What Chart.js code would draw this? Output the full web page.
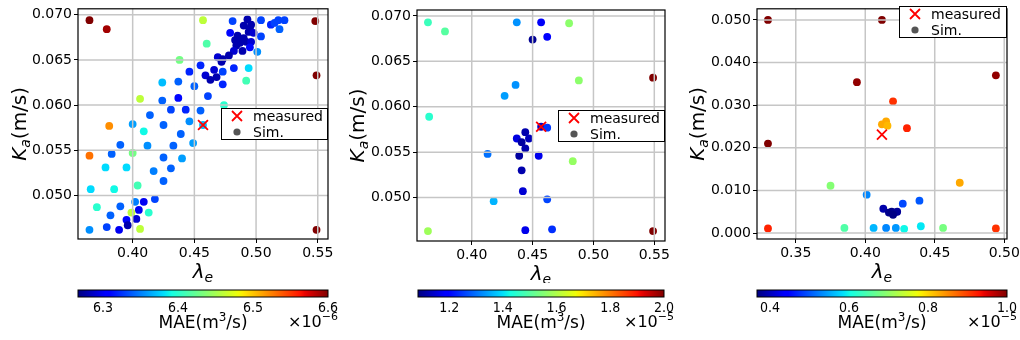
<!DOCTYPE html>
<html>
<head>
<meta charset="utf-8">
<script src="https://cdn.jsdelivr.net/npm/chart.js@4.4.1/dist/chart.umd.min.js"></script>
<style>
  body { margin: 0; background: #fff; width: 1020px; height: 340px; position: relative; overflow: hidden; }
  .box { position: absolute; }
</style>
</head>
<body>
<div class="box" style="left:0;top:0;width:340px;height:283px"><canvas id="p1"></canvas></div>
<div class="box" style="left:340px;top:0;width:340px;height:283px"><canvas id="p2"></canvas></div>
<div class="box" style="left:680px;top:0;width:340px;height:283px"><canvas id="p3"></canvas></div>
<div class="box" style="left:0;top:283px;width:340px;height:57px"><canvas id="cb1"></canvas></div>
<div class="box" style="left:340px;top:283px;width:340px;height:57px"><canvas id="cb2"></canvas></div>
<div class="box" style="left:680px;top:283px;width:340px;height:57px"><canvas id="cb3"></canvas></div>
<script>
// ---- data ----
// panel 1
const p1Lambda = [0.365,0.379,0.457,0.481,0.493,0.504,0.512,0.515,0.518,0.523,0.548,0.490,0.496,0.495,0.519,0.494,0.498,0.479,0.504,0.485,
  0.483,0.490,0.492,0.496,0.487,0.484,0.495,0.489,0.482,0.501,0.460,0.478,0.469,0.473,0.472,0.482,0.494,0.473,0.466,0.459,
  0.468,0.463,0.492,0.473,0.549,0.461,0.474,0.455,0.438,0.455,0.446,0.424,0.437,0.450,0.406,0.424,0.437,0.431,0.443,0.414,
  0.446,0.457,0.381,0.400,0.425,0.409,0.439,0.449,0.390,0.412,0.433,0.365,0.383,0.400,0.425,0.440,0.378,0.395,0.417,0.431,
  0.425,0.366,0.385,0.404,0.371,0.390,0.402,0.409,0.418,0.413,0.405,0.399,0.382,0.395,0.403,0.396,0.379,0.389,0.365,0.406,0.549];
const p1Ka = [0.0694,0.0684,0.0694,0.0693,0.0695,0.0694,0.0689,0.0691,0.0694,0.0694,0.0693,0.0688,0.0689,0.0685,0.0684,0.0681,0.0680,0.0680,0.0676,0.0677,
  0.0672,0.0674,0.0670,0.0670,0.0669,0.0666,0.0664,0.0660,0.0660,0.0659,0.0668,0.0655,0.0653,0.0651,0.0648,0.0641,0.0641,0.0637,0.0639,0.0633,
  0.0631,0.0628,0.0627,0.0623,0.0633,0.0610,0.0600,0.0594,0.0650,0.0644,0.0637,0.0625,0.0626,0.0621,0.0607,0.0605,0.0608,0.0595,0.0595,0.0589,
  0.0582,0.0578,0.0577,0.0579,0.0578,0.0571,0.0568,0.0558,0.0556,0.0555,0.0555,0.0544,0.0546,0.0547,0.0542,0.0541,0.0531,0.0531,0.0527,0.0530,
  0.0516,0.0507,0.0507,0.0511,0.0487,0.0488,0.0493,0.0493,0.0496,0.0481,0.0484,0.0481,0.0478,0.0473,0.0474,0.0467,0.0465,0.0462,0.0462,0.0463,0.0462];
const p1Mae = [6.60,6.59,6.46,6.33,6.28,6.33,6.32,6.33,6.33,6.33,6.60,6.28,6.28,6.28,6.34,6.28,6.29,6.31,6.33,6.28,
  6.28,6.28,6.28,6.29,6.28,6.28,6.31,6.28,6.29,6.355,6.415,6.28,6.29,6.28,6.28,6.32,6.38,6.33,6.29,6.29,
  6.28,6.28,6.41,6.32,6.60,6.33,6.40,6.34,6.43,6.32,6.32,6.37,6.34,6.34,6.46,6.34,6.31,6.33,6.32,6.34,
  6.355,6.37,6.52,6.36,6.34,6.39,6.34,6.36,6.34,6.355,6.34,6.53,6.34,6.43,6.34,6.36,6.38,6.38,6.35,6.34,
  6.34,6.38,6.39,6.41,6.40,6.34,6.35,6.30,6.33,6.40,6.30,6.46,6.34,6.31,6.29,6.28,6.33,6.30,6.355,6.46,6.60];
const p1Measured = [0.457, 0.0578];
const p1XRange = [0.3557, 0.5583];
const p1YRange = [0.04518, 0.07066];
const p1XTicks = [0.40, 0.45, 0.50, 0.55];
const p1YTicks = [0.050, 0.055, 0.060, 0.065, 0.070];
const cb1Range = [6.2667, 6.60];
const cb1Ticks = [6.3, 6.4, 6.5, 6.6];

// panel 2
const p2Lambda = [0.364,0.378,0.437,0.457,0.480,0.450,0.462,0.488,0.549,0.436,0.427,0.365,0.457,0.462,0.444,0.437,0.447,0.441,0.444,0.413,
  0.439,0.455,0.483,0.441,0.442,0.462,0.418,0.364,0.444,0.466,0.549];
const p2Ka = [0.0693,0.0683,0.0693,0.0693,0.0692,0.0674,0.0677,0.0629,0.0632,0.0624,0.0612,0.0589,0.0578,0.0577,0.0572,0.0565,0.0565,0.0561,0.0554,0.0548,
  0.0546,0.0546,0.0540,0.0530,0.0507,0.0498,0.0496,0.0463,0.0464,0.0465,0.0463];
const p2Mae = [1.47,1.50,1.33,1.18,1.56,1.10,1.19,1.56,2.00,1.33,1.34,1.45,1.14,1.25,1.12,1.16,1.13,1.11,1.12,1.30,
  1.11,1.17,1.57,1.12,1.15,1.26,1.36,1.58,1.17,1.24,2.00];
const p2Measured = [0.457, 0.0578];
const p2XRange = [0.3550, 0.5588];
const p2YRange = [0.04521, 0.07066];
const p2XTicks = [0.40, 0.45, 0.50, 0.55];
const p2YTicks = [0.050, 0.055, 0.060, 0.065, 0.070];
const cb2Range = [1.084, 2.0];
const cb2Ticks = [1.2, 1.4, 1.6, 1.8, 2.0];

// panel 3
const p3Lambda = [0.330,0.412,0.394,0.494,0.420,0.412,0.415,0.416,0.430,0.330,0.375,0.468,0.401,0.413,0.417,0.419,0.421,0.423,0.420,0.427,
  0.439,0.330,0.385,0.406,0.415,0.422,0.428,0.440,0.456,0.494];
const p3Ka = [0.0500,0.0500,0.0354,0.0370,0.0309,0.0255,0.0262,0.0252,0.0246,0.0210,0.0111,0.0118,0.0090,0.0057,0.0048,0.0050,0.0048,0.0050,0.0043,0.0069,
  0.0076,0.0011,0.0012,0.0012,0.0012,0.0012,0.0010,0.0016,0.0012,0.0011];
const p3Mae = [1.00,1.00,0.99,0.99,0.91,0.83,0.83,0.82,0.92,1.00,0.69,0.83,0.53,0.39,0.375,0.37,0.375,0.38,0.37,0.49,
  0.50,0.92,0.65,0.56,0.53,0.54,0.60,0.59,0.68,0.91];
const p3Measured = [0.412, 0.0231];
const p3XRange = [0.3221, 0.5020];
const p3YRange = [-0.00139, 0.0526];
const p3XTicks = [0.35, 0.40, 0.45, 0.50];
const p3YTicks = [0.000, 0.010, 0.020, 0.030, 0.040, 0.050];
const cb3Range = [0.367, 1.0];
const cb3Ticks = [0.4, 0.6, 0.8, 1.0];

// ---- helpers ----
const FONT = "'DejaVu Sans', sans-serif";
const NARROW = "'Liberation Sans Narrow', 'DejaVu Sans Condensed', sans-serif";
Chart.defaults.font.family = FONT;
Chart.defaults.font.size = 14;
Chart.defaults.color = '#000';

// matplotlib jet segment data
const JET = {
  r: [[0, 0], [0.35, 0], [0.66, 1], [0.89, 1], [1, 0.5]],
  g: [[0, 0], [0.125, 0], [0.375, 1], [0.64, 1], [0.91, 0], [1, 0]],
  b: [[0, 0.5], [0.11, 1], [0.34, 1], [0.65, 0], [1, 0]],
};
function seg(p, t) {
  for (let i = 1; i < p.length; i++) {
    if (t <= p[i][0]) {
      const f = (t - p[i - 1][0]) / (p[i][0] - p[i - 1][0]);
      return p[i - 1][1] + f * (p[i][1] - p[i - 1][1]);
    }
  }
  return p[p.length - 1][1];
}
function jet(t) {
  t = Math.min(1, Math.max(0, t));
  const c = k => Math.round(255 * seg(JET[k], t));
  return `rgb(${c('r')},${c('g')},${c('b')})`;
}

// draw a run of text pieces (for sub/superscripts), centred or right-aligned
function drawRun(ctx, parts, x, y, align) {
  let w = 0;
  parts.forEach(p => { ctx.font = p.font; p.w = ctx.measureText(p.t).width; w += p.w; });
  let cx = align === 'right' ? x - w : x - w / 2;
  ctx.textAlign = 'left';
  ctx.textBaseline = 'alphabetic';
  parts.forEach(p => { ctx.font = p.font; ctx.fillText(p.t, cx, y + (p.dy || 0)); cx += p.w; });
}

function drawX(ctx, x, y, r) {
  ctx.beginPath();
  ctx.moveTo(x - r, y - r); ctx.lineTo(x + r, y + r);
  ctx.moveTo(x - r, y + r); ctx.lineTo(x + r, y - r);
  ctx.stroke();
}

const deco = {
  id: 'deco',
  afterDatasetsDraw(chart, args, o) {
    const { ctx, chartArea: a, scales: { x, y } } = chart;
    ctx.save();
    // grid on top of the markers, as in the reference
    ctx.strokeStyle = '#c6c6c6';
    ctx.lineWidth = 1.5;
    ctx.beginPath();
    x.ticks.forEach(t => { const px = x.getPixelForValue(t.value); ctx.moveTo(px, a.top); ctx.lineTo(px, a.bottom); });
    y.ticks.forEach(t => { const py = y.getPixelForValue(t.value); ctx.moveTo(a.left, py); ctx.lineTo(a.right, py); });
    ctx.stroke();
    // frame
    ctx.strokeStyle = '#000';
    ctx.lineWidth = 1.2;
    ctx.strokeRect(a.left, a.top, a.right - a.left, a.bottom - a.top);

    // axis titles
    ctx.fillStyle = '#000';
    drawRun(ctx, [
      { t: 'λ', font: `italic 20px ${FONT}` },
      { t: 'e', font: `italic 14px ${FONT}`, dy: 4 },
    ], (a.left + a.right) / 2, a.bottom + 38.5, 'center');
    ctx.save();
    ctx.translate(o.yTitleX, (a.top + a.bottom) / 2);
    ctx.rotate(-Math.PI / 2);
    drawRun(ctx, [
      { t: 'K', font: `italic 20px ${FONT}` },
      { t: 'a', font: `italic 14px ${FONT}`, dy: 4 },
      { t: '(m/s)', font: `20px ${FONT}` },
    ], 0, 0, 'center');
    ctx.restore();

    // legend
    const L = o.legend;
    ctx.fillStyle = '#fff';
    ctx.fillRect(L.x, L.y, L.w, L.h);
    ctx.strokeStyle = '#000';
    ctx.lineWidth = 1;
    ctx.strokeRect(L.x + 0.5, L.y + 0.5, L.w - 1, L.h - 1);
    ctx.strokeStyle = '#ff0000';
    ctx.lineWidth = 1.8;
    drawX(ctx, L.x + 16, L.y + 8, 5);
    ctx.fillStyle = '#555';
    ctx.beginPath();
    ctx.arc(L.x + 16, L.y + 24, 3.6, 0, Math.PI * 2);
    ctx.fill();
    ctx.fillStyle = '#000';
    ctx.font = `14px ${FONT}`;
    ctx.textAlign = 'left';
    ctx.textBaseline = 'alphabetic';
    ctx.fillText('measured', L.x + 32, L.y + 13);
    ctx.fillText('Sim.', L.x + 32, L.y + 29);
    ctx.restore();
  }
};

function panel(id, d) {
  const pts = d.lam.map((v, i) => ({ x: v, y: d.ka[i] }));
  const cols = d.mae.map(m => jet((m - d.cb[0]) / (d.cb[1] - d.cb[0])));
  const fitX = s => { s.height = d.xAxisH; s.paddingLeft = 0; s.paddingRight = 0; };
  const fitY = s => { s.width = d.yAxisW; s.paddingTop = 0; s.paddingBottom = 0; };
  return new Chart(document.getElementById(id), {
    type: 'scatter',
    data: {
      datasets: [
        { data: [{ x: d.meas[0], y: d.meas[1] }], pointStyle: 'crossRot', pointRadius: 7, pointHoverRadius: 7,
          pointBorderColor: '#ff0000', pointBorderWidth: 1.8, pointBackgroundColor: '#ff0000' },
        { data: pts, pointStyle: 'circle', pointRadius: 3.9, pointHoverRadius: 3.9,
          pointBackgroundColor: cols, pointBorderWidth: 0 },
      ]
    },
    options: {
      animation: false,
      responsive: true,
      maintainAspectRatio: false,
      events: [],
      layout: { padding: { top: d.top, right: d.right, left: 0, bottom: 0 } },
      plugins: {
        legend: { display: false },
        tooltip: { enabled: false },
        deco: { yTitleX: d.yTitleX, legend: d.legend },
      },
      scales: {
        x: {
          type: 'linear', min: d.xr[0], max: d.xr[1],
          afterBuildTicks: s => { s.ticks = d.xt.map(v => ({ value: v })); },
          afterFit: fitX,
          ticks: { callback: v => Number(v).toFixed(2), padding: 2, maxRotation: 0, autoSkip: false },
          grid: { drawOnChartArea: false, drawTicks: true, tickLength: 4, tickColor: '#000', tickWidth: 1 },
          border: { display: false },
        },
        y: {
          type: 'linear', min: d.yr[0], max: d.yr[1],
          afterBuildTicks: s => { s.ticks = d.yt.map(v => ({ value: v })); },
          afterFit: fitY,
          ticks: { callback: v => Number(v).toFixed(3), padding: 2, autoSkip: false },
          grid: { drawOnChartArea: false, drawTicks: true, tickLength: 4, tickColor: '#000', tickWidth: 1 },
          border: { display: false },
        },
      },
    },
    plugins: [deco],
  });
}

const cbDeco = {
  id: 'cbDeco',
  beforeDatasetsDraw(chart, args, o) {
    const { ctx, chartArea: a, scales: { x } } = chart;
    ctx.save();
    const g = ctx.createLinearGradient(a.left, 0, a.right, 0);
    const n = 64;
    for (let i = 0; i <= n; i++) {
      const v = x.min + (x.max - x.min) * i / n;
      const f = (x.getPixelForValue(v) - a.left) / (a.right - a.left);
      g.addColorStop(Math.min(1, Math.max(0, f)), jet(i / n));
    }
    ctx.fillStyle = g;
    ctx.fillRect(a.left, a.top, a.right - a.left, a.bottom - a.top);
    ctx.strokeStyle = '#000';
    ctx.lineWidth = 1;
    ctx.strokeRect(a.left, a.top, a.right - a.left, a.bottom - a.top);

    ctx.fillStyle = '#000';
    drawRun(ctx, [
      { t: 'MAE(m', font: `17px ${FONT}` },
      { t: '3', font: `12px ${FONT}`, dy: -7 },
      { t: '/s)', font: `17px ${FONT}` },
    ], (a.left + a.right) / 2, 45, 'center');
    drawRun(ctx, [
      { t: '×10', font: `16px ${FONT}` },
      { t: '−' + o.exp, font: `11px ${FONT}`, dy: -7 },
    ], a.right + 10, 44, 'right');
    ctx.restore();
  }
};

function colorbar(id, d) {
  return new Chart(document.getElementById(id), {
    type: 'scatter',
    data: { datasets: [] },
    options: {
      animation: false,
      responsive: true,
      maintainAspectRatio: false,
      events: [],
      layout: { padding: { top: 7, left: d.left, right: d.right, bottom: 0 } },
      plugins: { legend: { display: false }, tooltip: { enabled: false }, cbDeco: { exp: d.exp } },
      scales: {
        x: {
          type: 'linear', min: d.range[0], max: d.range[1],
          afterBuildTicks: s => { s.ticks = d.ticks.map(v => ({ value: v })); },
          afterFit: s => { s.height = 43; s.paddingLeft = 0; s.paddingRight = 0; },
          ticks: { callback: v => Number(v).toFixed(1), padding: 3, maxRotation: 0, autoSkip: false,
                   font: { family: NARROW, size: 14 } },
          grid: { display: false, drawTicks: false, tickLength: 0 },
          border: { display: false },
        },
        y: { display: false, min: 0, max: 1 },
      },
    },
    plugins: [cbDeco],
  });
}

panel('p1', { lam: p1Lambda, ka: p1Ka, mae: p1Mae, meas: p1Measured, cb: cb1Range,
  xr: p1XRange, yr: p1YRange, xt: p1XTicks, yt: p1YTicks,
  top: 8, right: 12, yAxisW: 78, xAxisH: 44, yTitleX: 26,
  legend: { x: 221, y: 108, w: 107, h: 32 } });
panel('p2', { lam: p2Lambda, ka: p2Ka, mae: p2Mae, meas: p2Measured, cb: cb2Range,
  xr: p2XRange, yr: p2YRange, xt: p2XTicks, yt: p2YTicks,
  top: 10, right: 15, yAxisW: 77, xAxisH: 42, yTitleX: 24,
  legend: { x: 218, y: 110, w: 107, h: 32 } });
panel('p3', { lam: p3Lambda, ka: p3Ka, mae: p3Mae, meas: p3Measured, cb: cb3Range,
  xr: p3XRange, yr: p3YRange, xt: p3XTicks, yt: p3YTicks,
  top: 6, right: 13, yAxisW: 77, xAxisH: 44, yTitleX: 24,
  legend: { x: 219, y: 6, w: 108, h: 32 } });

colorbar('cb1', { range: cb1Range, ticks: cb1Ticks, left: 78, right: 12, exp: '6' });
colorbar('cb2', { range: cb2Range, ticks: cb2Ticks, left: 78, right: 16, exp: '5' });
colorbar('cb3', { range: cb3Range, ticks: cb3Ticks, left: 77, right: 13, exp: '5' });
</script>
</body>
</html>
